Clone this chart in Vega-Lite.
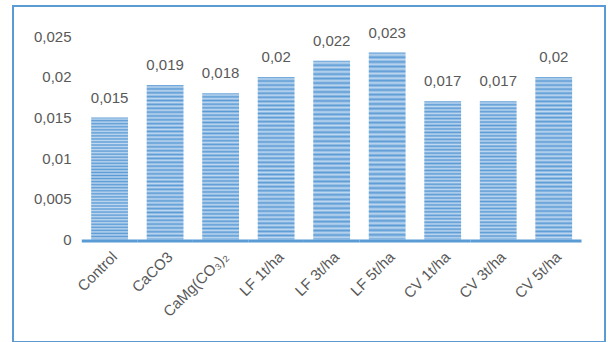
{
  "$schema": "https://vega.github.io/schema/vega-lite/v6.json",
  "autosize": "none",
  "padding": {"left": 13, "top": 6, "right": 3, "bottom": 0},
  "width": 592,
  "height": 336,
  "background": "white",
  "config": {
    "font": "Liberation Sans",
    "view": {"stroke": "#5b9bd5", "strokeWidth": 2},
    "locale": {"number": {"decimal": ",", "thousands": ".", "grouping": [3], "currency": ["", " €"]}}
  },
  "data": {
    "values": [
      {"treatment": "Control", "value": 0.015},
      {"treatment": "CaCO3", "value": 0.019},
      {"treatment": "CaMg(CO₃)₂", "value": 0.018},
      {"treatment": "LF 1t/ha", "value": 0.02},
      {"treatment": "LF 3t/ha", "value": 0.022},
      {"treatment": "LF 5t/ha", "value": 0.023},
      {"treatment": "CV 1t/ha", "value": 0.017},
      {"treatment": "CV 3t/ha", "value": 0.017},
      {"treatment": "CV 5t/ha", "value": 0.02}
    ]
  },
  "encoding": {
    "x": {
      "field": "treatment",
      "type": "nominal",
      "sort": null,
      "scale": {"paddingInner": 0.337, "paddingOuter": 1.0445, "align": 0.704},
      "axis": {
        "title": null,
        "offset": -100,
        "domain": false,
        "ticks": false,
        "grid": false,
        "labelAngle": -45,
        "labelAlign": "right",
        "labelBaseline": "top",
        "labelPadding": 7,
        "labelFontSize": 15,
        "labelColor": "#595959"
      }
    }
  },
  "layer": [
    {
      "mark": {
        "type": "bar",
        "color": {
          "gradient": "linear", "x1": 0, "y1": 0, "x2": 0, "y2": 1,
          "stops": [
            {"offset": 0, "color": "#5b9bd5"}, {"offset": 0.0125, "color": "#c0d8f0"},
            {"offset": 0.025, "color": "#5b9bd5"}, {"offset": 0.0375, "color": "#c0d8f0"},
            {"offset": 0.05, "color": "#5b9bd5"}, {"offset": 0.0625, "color": "#c0d8f0"},
            {"offset": 0.075, "color": "#5b9bd5"}, {"offset": 0.0875, "color": "#c0d8f0"},
            {"offset": 0.1, "color": "#5b9bd5"}, {"offset": 0.1125, "color": "#c0d8f0"},
            {"offset": 0.125, "color": "#5b9bd5"}, {"offset": 0.1375, "color": "#c0d8f0"},
            {"offset": 0.15, "color": "#5b9bd5"}, {"offset": 0.1625, "color": "#c0d8f0"},
            {"offset": 0.175, "color": "#5b9bd5"}, {"offset": 0.1875, "color": "#c0d8f0"},
            {"offset": 0.2, "color": "#5b9bd5"}, {"offset": 0.2125, "color": "#c0d8f0"},
            {"offset": 0.225, "color": "#5b9bd5"}, {"offset": 0.2375, "color": "#c0d8f0"},
            {"offset": 0.25, "color": "#5b9bd5"}, {"offset": 0.2625, "color": "#c0d8f0"},
            {"offset": 0.275, "color": "#5b9bd5"}, {"offset": 0.2875, "color": "#c0d8f0"},
            {"offset": 0.3, "color": "#5b9bd5"}, {"offset": 0.3125, "color": "#c0d8f0"},
            {"offset": 0.325, "color": "#5b9bd5"}, {"offset": 0.3375, "color": "#c0d8f0"},
            {"offset": 0.35, "color": "#5b9bd5"}, {"offset": 0.3625, "color": "#c0d8f0"},
            {"offset": 0.375, "color": "#5b9bd5"}, {"offset": 0.3875, "color": "#c0d8f0"},
            {"offset": 0.4, "color": "#5b9bd5"}, {"offset": 0.4125, "color": "#c0d8f0"},
            {"offset": 0.425, "color": "#5b9bd5"}, {"offset": 0.4375, "color": "#c0d8f0"},
            {"offset": 0.45, "color": "#5b9bd5"}, {"offset": 0.4625, "color": "#c0d8f0"},
            {"offset": 0.475, "color": "#5b9bd5"}, {"offset": 0.4875, "color": "#c0d8f0"},
            {"offset": 0.5, "color": "#5b9bd5"}, {"offset": 0.5125, "color": "#c0d8f0"},
            {"offset": 0.525, "color": "#5b9bd5"}, {"offset": 0.5375, "color": "#c0d8f0"},
            {"offset": 0.55, "color": "#5b9bd5"}, {"offset": 0.5625, "color": "#c0d8f0"},
            {"offset": 0.575, "color": "#5b9bd5"}, {"offset": 0.5875, "color": "#c0d8f0"},
            {"offset": 0.6, "color": "#5b9bd5"}, {"offset": 0.6125, "color": "#c0d8f0"},
            {"offset": 0.625, "color": "#5b9bd5"}, {"offset": 0.6375, "color": "#c0d8f0"},
            {"offset": 0.65, "color": "#5b9bd5"}, {"offset": 0.6625, "color": "#c0d8f0"},
            {"offset": 0.675, "color": "#5b9bd5"}, {"offset": 0.6875, "color": "#c0d8f0"},
            {"offset": 0.7, "color": "#5b9bd5"}, {"offset": 0.7125, "color": "#c0d8f0"},
            {"offset": 0.725, "color": "#5b9bd5"}, {"offset": 0.7375, "color": "#c0d8f0"},
            {"offset": 0.75, "color": "#5b9bd5"}, {"offset": 0.7625, "color": "#c0d8f0"},
            {"offset": 0.775, "color": "#5b9bd5"}, {"offset": 0.7875, "color": "#c0d8f0"},
            {"offset": 0.8, "color": "#5b9bd5"}, {"offset": 0.8125, "color": "#c0d8f0"},
            {"offset": 0.825, "color": "#5b9bd5"}, {"offset": 0.8375, "color": "#c0d8f0"},
            {"offset": 0.85, "color": "#5b9bd5"}, {"offset": 0.8625, "color": "#c0d8f0"},
            {"offset": 0.875, "color": "#5b9bd5"}, {"offset": 0.8875, "color": "#c0d8f0"},
            {"offset": 0.9, "color": "#5b9bd5"}, {"offset": 0.9125, "color": "#c0d8f0"},
            {"offset": 0.925, "color": "#5b9bd5"}, {"offset": 0.9375, "color": "#c0d8f0"},
            {"offset": 0.95, "color": "#5b9bd5"}, {"offset": 0.9625, "color": "#c0d8f0"},
            {"offset": 0.975, "color": "#5b9bd5"}, {"offset": 0.9875, "color": "#c0d8f0"},
            {"offset": 1, "color": "#5b9bd5"}
          ]
        }
      },
      "encoding": {
        "y": {
          "field": "value",
          "type": "quantitative",
          "scale": {"domain": [-0.01261, 0.02873], "nice": false, "zero": false},
          "axis": {
            "title": null,
            "offset": -62,
            "domain": false,
            "ticks": false,
            "grid": false,
            "values": [0, 0.005, 0.01, 0.015, 0.02, 0.025],
            "format": "~g",
            "labelPadding": 4,
            "labelFontSize": 15,
            "labelColor": "#595959"
          }
        }
      }
    },
    {
      "mark": {"type": "bar", "color": "#5b9bd5", "width": {"band": 1.51}},
      "encoding": {
        "y": {"datum": 0, "type": "quantitative"},
        "y2": {"datum": -0.00037}
      }
    },
    {
      "mark": {"type": "text", "baseline": "middle", "dy": -20, "fontSize": 15, "color": "#595959"},
      "encoding": {
        "y": {"field": "value", "type": "quantitative"},
        "text": {"field": "value", "type": "quantitative", "format": "~g"}
      }
    }
  ]
}
